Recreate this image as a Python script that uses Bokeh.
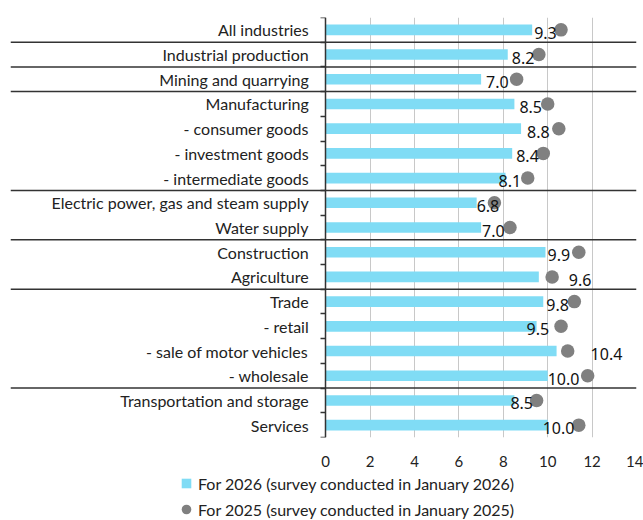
from bokeh.plotting import figure
from bokeh.layouts import column
from bokeh.models import (ColumnDataSource, FixedTicker, Range1d, Span, Legend, LegendItem)
from bokeh.core.properties import value
from bokeh.embed import file_html
from bokeh.resources import INLINE

categories = ["All industries", "Industrial production", "Mining and quarrying",
              "Manufacturing", "- consumer goods", "- investment goods",
              "- intermediate goods", "Electric power, gas and steam supply",
              "Water supply", "Construction", "Agriculture", "Trade", "- retail",
              "- sale of motor vehicles", "- wholesale", "Transportation and storage",
              "Services"]
for_2026 = [9.3, 8.2, 7.0, 8.5, 8.8, 8.4, 8.1, 6.8, 7.0, 9.9, 9.6, 9.8, 9.5, 10.4, 10.0, 8.5, 10.0]
for_2025 = [10.6, 9.6, 8.6, 10.0, 10.5, 9.8, 9.1, 7.6, 8.3, 11.4, 10.2, 11.2, 10.6, 10.9, 11.8, 9.5, 11.4]
x_ticks = [0, 2, 4, 6, 8, 10, 12, 14]
group_starts = [1, 2, 3, 7, 9, 11, 15]
legend_labels = ["For 2026 (survey conducted in January 2026)",
                 "For 2025 (survey conducted in January 2025)"]

# label placement (screen px offsets from bar end)
label_dx = [2, 4, 5, 5, 6, 4, -7, 0, 1, 2, 30, 3, -10, 34, 0, -4, -5]

BAR = "#80DCF5"
DOT = "#808080"
FONT = "Lato"

idx = list(range(len(categories)))
src = ColumnDataSource(dict(
    idx=idx, cat=categories, v26=for_2026, v25=for_2025,
    lbl=[f"{v:.1f}" for v in for_2026], dx=label_dx))

p = figure(width=643, height=474, output_backend="svg", toolbar_location=None,
           x_range=Range1d(-14.2, 14), y_range=Range1d(len(categories) - 0.5, -0.5),
           min_border_left=10, min_border_right=7, min_border_top=17, min_border_bottom=37)
p.outline_line_color = None
p.background_fill_color = "white"
p.border_fill_color = "white"

# grid
p.ygrid.visible = False
p.xgrid.ticker = FixedTicker(ticks=x_ticks)
p.xgrid.grid_line_color = "#c8c8c8"
p.xgrid.grid_line_width = 1

# x axis
p.xaxis.ticker = FixedTicker(ticks=x_ticks)
p.xaxis.axis_line_color = None
p.xaxis.major_tick_line_color = None
p.xaxis.minor_tick_line_color = None
p.xaxis.major_label_text_font = FONT
p.xaxis.major_label_text_font_size = "15px"
p.xaxis.major_label_text_color = "#222222"
p.xaxis.major_label_standoff = 12

# y axis at x = 0
p.yaxis.fixed_location = 0
p.yaxis.ticker = FixedTicker(ticks=idx, minor_ticks=[i - 0.5 for i in range(len(categories) + 1)])
p.yaxis.major_label_overrides = {i: c for i, c in enumerate(categories)}
p.yaxis.major_tick_in = 0
p.yaxis.major_tick_out = 0
p.yaxis.major_tick_line_color = None
p.yaxis.minor_tick_in = 0
p.yaxis.minor_tick_out = 5
p.yaxis.minor_tick_line_color = "#333333"
p.yaxis.minor_tick_line_width = 1.5
p.yaxis.axis_line_color = "#333333"
p.yaxis.axis_line_width = 1.5
p.yaxis.major_label_standoff = 12
p.yaxis.major_label_text_font = FONT
p.yaxis.major_label_text_font_size = "16px"
p.yaxis.major_label_text_color = "#222222"

# group separators
for g in group_starts:
    p.add_layout(Span(location=g - 0.5, dimension="width", line_color="#333333", line_width=1.5))

bars = p.hbar(y="idx", right="v26", left=0, height=0.43, source=src,
              fill_color=BAR, line_color=None)
dots = p.scatter(x="v25", y="idx", size=13.5, source=src, fill_color=DOT, line_color=None)
p.text(x="v26", y="idx", text="lbl", x_offset="dx", y_offset=3, source=src,
       text_font=value("Noto Sans"), text_font_size="16px", text_color="#111111",
       text_baseline="middle", text_align="left")

# legend in its own strip below the chart (sample glyphs kept outside the visible range)
lg = figure(width=643, height=46, output_backend="svg", toolbar_location=None,
            x_range=Range1d(0, 1), y_range=Range1d(0, 1), min_border=0)
lg.axis.visible = False
lg.grid.visible = False
lg.outline_line_color = None
leg_sq = lg.scatter(x=[-5], y=[-5], marker="square", size=10, fill_color=BAR, line_color=None)
leg_ci = lg.scatter(x=[-5], y=[-5], marker="circle", size=10, fill_color=DOT, line_color=None)
legend = Legend(items=[
    LegendItem(label=legend_labels[0], renderers=[leg_sq]),
    LegendItem(label=legend_labels[1], renderers=[leg_ci]),
], location=(164, -1), orientation="vertical")
legend.glyph_width = 24
legend.glyph_height = 24
legend.spacing = 2
legend.padding = 0
legend.margin = 0
legend.label_standoff = 0
legend.label_text_font = FONT
legend.label_text_font_size = "16px"
legend.label_text_color = "#222222"
legend.background_fill_alpha = 0
legend.border_line_color = None
lg.add_layout(legend)

layout = column(p, lg, spacing=0)
open("out.html", "w").write(file_html(layout, INLINE))
